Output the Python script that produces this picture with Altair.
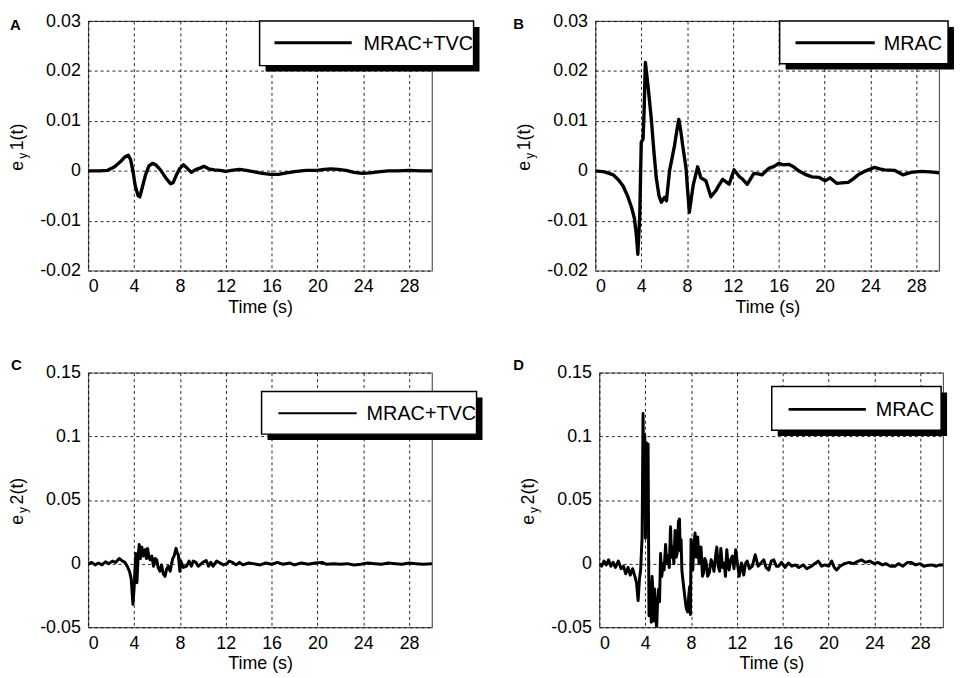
import altair as alt
import pandas as pd

FONT = "Liberation Sans"

# ---------------- data ----------------
XTICKS = [0, 4, 8, 12, 16, 20, 24, 28]
Y1_TICKS = [-0.02, -0.01, 0, 0.01, 0.02, 0.03]
Y2_TICKS = [-0.05, 0, 0.05, 0.1, 0.15]

A_t = [0, 1, 1.7, 2.3, 2.8, 3.2, 3.5, 3.7, 3.9, 4.1, 4.35, 4.5, 4.7, 5.0, 5.3, 5.6, 5.9, 6.3, 6.8,
       7.2, 7.4, 7.7, 8.0, 8.3, 8.6, 9.0, 9.4, 9.7, 10.1, 10.5, 11.0, 11.5, 12.0, 12.5, 13.2, 13.8,
       14.5, 15.2, 15.9, 16.6, 17.3, 18.2, 19.0, 20.0, 20.6, 21.2, 21.8, 22.5, 23.2, 23.9, 24.6,
       25.3, 26.2, 27.0, 28.0, 29.0, 30.0]
A_v = [0, 0.0000, 0.0001, 0.0008, 0.0018, 0.0028, 0.0031, 0.0022, 0.0000, -0.0030, -0.0050,
       -0.0052, -0.0035, -0.0008, 0.0010, 0.0015, 0.0012, 0.0002, -0.0015, -0.0026, -0.0024,
       -0.0008, 0.0005, 0.0012, 0.0006, -0.0003, 0.0003, 0.0005, 0.0009, 0.0004, 0.0002, 0.0001,
       -0.0001, 0.0001, 0.0003, 0.0001, -0.0002, -0.0005, -0.0007, -0.0007, -0.0004, -0.0001,
       0.0001, 0.0001, 0.0003, 0.0004, 0.0003, 0.0001, -0.0003, -0.0005, -0.0004, -0.0002,
       0.0000, 0.0000, 0.0001, 0.0000, 0.0000]

B_t = [0, 0.8, 1.56, 2.0, 2.4, 2.8, 3.15, 3.4, 3.58, 3.7, 3.87, 4.0, 4.16, 4.25, 4.36, 4.6, 4.88,
       5.1, 5.31, 5.55, 5.75, 6.03, 6.2, 6.47, 6.9, 7.1, 7.28, 7.45, 7.62, 7.91, 8.05, 8.2, 8.4,
       8.55, 8.92, 9.2, 9.64, 10.08, 10.5, 10.8, 11.1, 11.4, 11.67, 12.1, 12.53, 12.9, 13.25,
       13.83, 14.2, 14.55, 15.13, 15.6, 16.0, 16.4, 16.86, 17.3, 17.73, 18.3, 18.9, 19.5, 20.04,
       20.47, 21.05, 21.5, 22.06, 22.5, 22.93, 23.6, 24.37, 24.8, 25.24, 26.1, 26.83, 27.55,
       28.4, 29.2, 30]
B_v = [0, -0.0002, -0.0008, -0.0018, -0.003, -0.005, -0.0073, -0.0095, -0.013, -0.0167, -0.009,
       0.0057, 0.0064, 0.012, 0.0217, 0.0168, 0.0103, 0.004, -0.0014, -0.005, -0.0063, -0.0053,
       -0.006, 0.0, 0.005, 0.008, 0.0103, 0.008, 0.005, 0.0005, -0.004, -0.0083, -0.005,
       -0.0027, 0.0008, -0.0014, -0.002, -0.0052, -0.004, -0.0028, -0.0017, -0.0022, -0.0027,
       0.0002, -0.0011, -0.0018, -0.0027, -0.0005, -0.0006, -0.0008, 0.0005, 0.0009, 0.0015,
       0.0012, 0.0013, 0.0008, 0.0, -0.0007, -0.0012, -0.0013, -0.002, -0.0014, -0.0025, -0.0024,
       -0.0023, -0.0016, -0.0008, 0.0, 0.0007, 0.0004, 0.0002, 0.0001, -0.0008, -0.0003, -0.0001,
       -0.0002, -0.0004]

C_t = [0, 0.3, 0.6, 0.9, 1.2, 1.5, 1.8, 2.1, 2.4, 2.7, 3.0, 3.2, 3.4, 3.6, 3.75, 3.9, 4.0, 4.05,
       4.15, 4.25, 4.35, 4.45, 4.55, 4.68, 4.8, 4.97, 5.08, 5.18, 5.3, 5.4, 5.55, 5.7, 5.85, 5.98,
       6.1, 6.27, 6.4, 6.55, 6.7, 6.85, 6.99, 7.15, 7.37, 7.5, 7.66, 7.78, 7.86, 8.0, 8.08, 8.15,
       8.3, 8.58, 8.8, 9.0, 9.16, 9.4, 9.6, 9.75, 10.0, 10.3, 10.5, 10.7, 10.9, 11.2, 11.5, 11.8,
       12.1, 12.3, 12.6, 12.9, 13.2, 13.5, 14.0, 14.4, 15.0, 15.5, 16.0, 16.5, 17.0, 17.6, 18.0,
       18.6, 19.2, 19.8, 20.4, 20.8, 21.4, 22.0, 22.6, 23.2, 23.8, 24.4, 25.0, 25.6, 26.2, 26.8,
       27.4, 28.0, 28.6, 29.2, 30.0]
C_v = [0, 0.001, -0.001, 0.0005, -0.001, 0.0015, 0, 0.002, 0.001, 0.004, 0.002, 0.001, -0.002,
       -0.006, -0.012, -0.032, -0.02, -0.01, 0.008, -0.015, 0.005, 0.015, 0.004, 0.013, 0.006,
       0.011, 0.004, 0.012, 0.005, 0.003, 0.006, -0.002, 0.004, 0.003, -0.003, -0.006, -0.001,
       -0.008, -0.01, -0.004, -0.002, -0.006, 0.004, 0.006, 0.012, 0.008, 0.007, -0.006, 0.002,
       0.0005, -0.003, -0.002, 0.002, -0.002, 0.002, 0.001, -0.002, -0.001, 0.001, 0.0025,
       -0.002, 0.001, -0.002, 0.002, 0.0005, -0.001, 0, 0.002, 0.001, -0.001, 0.001, -0.001,
       0.0005, 0, -0.001, 0.0005, -0.0005, 0.001, -0.0005, 0.0005, -0.001, 0.0005, -0.0005,
       0.0005, 0.001, -0.0005, 0, -0.0005, 0, -0.001, -0.0005, 0.0005, 0, -0.0005, 0.0005, 0,
       -0.0005, 0.0005, 0, -0.0005, 0]

D_t = [0, 0.2, 0.4, 0.6, 0.8, 1.0, 1.2, 1.4, 1.65, 1.9, 2.1, 2.3, 2.5, 2.7, 2.9, 3.1, 3.24, 3.38,
       3.5, 3.6, 3.73, 3.81, 3.88, 3.96, 4.02, 4.1, 4.18, 4.25, 4.33, 4.45, 4.53, 4.6, 4.68, 4.75,
       4.82, 4.9, 5.0, 5.08, 5.17, 5.25, 5.34, 5.45, 5.55, 5.65, 5.78, 5.88, 5.98, 6.1, 6.21, 6.3,
       6.41, 6.5, 6.61, 6.7, 6.79, 6.9, 6.99, 7.06, 7.13, 7.2, 7.28, 7.38, 7.48, 7.58, 7.71, 7.8,
       7.88, 7.95, 8.0, 8.08, 8.15, 8.25, 8.35, 8.45, 8.58, 8.7, 8.87, 9.0, 9.1, 9.2, 9.3, 9.45,
       9.6, 9.75, 9.88, 10.0, 10.17, 10.25, 10.37, 10.5, 10.6, 10.75, 10.9, 11.0, 11.12, 11.22,
       11.32, 11.45, 11.6, 11.75, 11.9, 12.05, 12.2, 12.4, 12.6, 12.75, 12.9, 13.1, 13.35, 13.6,
       13.85, 14.1, 14.35, 14.55, 14.78, 15.0, 15.22, 15.45, 15.65, 15.9, 16.2, 16.5, 16.8, 17.1,
       17.4, 17.8, 18.1, 18.5, 18.8, 19.1, 19.4, 19.7, 20.0, 20.27, 20.5, 20.7, 21.0, 21.4, 21.8,
       22.2, 22.6, 22.9, 23.2, 23.6, 24.0, 24.3, 24.7, 25.0, 25.4, 25.8, 26.1, 26.5, 26.9, 27.2,
       27.6, 28.0, 28.3, 28.6, 29.0, 29.4, 29.7, 30.0]
D_v = [0, -0.002, 0.002, -0.001, 0.003, -0.002, 0.001, -0.003, 0.002, -0.004, -0.002, -0.008,
       -0.003, -0.009, -0.004, -0.01, -0.015, -0.029, -0.012, -0.005, 0.021, 0.118, 0.06, 0.101,
       0.02, 0.095, 0.03, 0.094, -0.041, -0.015, -0.046, -0.01, -0.023, -0.045, -0.02, -0.041,
       -0.05, -0.03, -0.02, -0.03, 0.008, -0.01, 0, -0.005, 0.015, 0, 0.006, -0.003, 0.029, 0.005,
       0.013, 0.0, 0.026, 0.005, 0.008, 0.033, 0.035, 0.01, 0.019, -0.005, -0.012, -0.02, -0.028,
       -0.035, -0.038, -0.025, -0.018, -0.04, 0.019, 0.0, -0.005, 0.015, 0.024, 0.005, 0.021, 0.0,
       0.013, -0.01, -0.007, 0.004, 0.002, -0.01, -0.007, 0.003, 0.0005, -0.006, 0.008, 0.013,
       -0.002, -0.006, 0.012, -0.003, 0.0005, -0.01, 0.011, 0.0, -0.005, 0.003, 0.006, -0.004,
       0.011, 0.0, -0.01, 0.0005, -0.009, 0.0, 0.002, -0.004, -0.002, 0.007, -0.002, 0.0005,
       0.003, -0.003, -0.005, 0.002, 0.003, -0.002, -0.002, 0.001, -0.003, 0.0005, -0.002,
       -0.001, -0.003, -0.001, -0.004, -0.002, 0.0, 0.002, -0.002, -0.001, -0.002, 0.002, -0.003,
       -0.005, -0.002, 0, 0.001, 0.0, 0.002, 0.003, 0.001, 0.002, 0.0, 0.001, -0.001, 0.0, -0.002,
       -0.002, 0.0, -0.002, 0.001, 0.001, -0.001, 0.0, -0.002, -0.0015, -0.001, -0.002, -0.001,
       -0.001]

W = 347
LABEL_EXPR = "replace(format(datum.value, '~g'), '\u2212', '-')"


def panel(t, v, ydom, yticks, letter, letter_xy, num, legend_text, box, line_w, legend_w, h):
    df = pd.DataFrame({"t": t, "v": v})
    line = alt.Chart(df).mark_line(color="black", strokeWidth=line_w, clip=True,
                                   strokeJoin="round").encode(
        x=alt.X("t:Q", scale=alt.Scale(domain=[0, 30], nice=False, zero=False),
                axis=alt.Axis(values=XTICKS, title="Time (s)", grid=True, ticks=False,
                              domain=False, labelPadding=7, titlePadding=3, format="d")),
        y=alt.Y("v:Q", scale=alt.Scale(domain=ydom, nice=False, zero=False),
                axis=alt.Axis(values=yticks, title=None, grid=True, ticks=False,
                              domain=False, labelPadding=8, labelExpr=LABEL_EXPR)),
    )
    one = alt.Chart(pd.DataFrame({"k": [0]}))
    bx0, by0, bx1, by1, lx0, lx1, ly, tx = box
    sh = 6
    shadow = one.mark_rect(color="black").encode(
        x=alt.value(bx0 + sh), x2=alt.value(bx1 + sh), y=alt.value(by0 + sh), y2=alt.value(by1 + sh))
    frame = one.mark_rect(fill="white", stroke="black", strokeWidth=1.5).encode(
        x=alt.value(bx0), x2=alt.value(bx1), y=alt.value(by0), y2=alt.value(by1))
    sample = one.mark_rule(color="black", strokeWidth=legend_w).encode(
        x=alt.value(lx0), x2=alt.value(lx1), y=alt.value(ly))
    ltext = one.mark_text(align="left", baseline="middle", font=FONT, fontSize=20,
                          color="black").encode(
        x=alt.value(tx), y=alt.value(ly + 1), text=alt.value(legend_text))
    let = one.mark_text(align="left", baseline="top", font=FONT, fontSize=15,
                        fontWeight="bold", color="black").encode(
        x=alt.value(letter_xy[0]), y=alt.value(letter_xy[1]), text=alt.value(letter))
    yc = h / 2.0
    ye = one.mark_text(angle=270, align="center", baseline="alphabetic", font=FONT,
                       fontSize=18, color="black").encode(
        x=alt.value(-66), y=alt.value(yc + 20), text=alt.value("e"))
    ysub = one.mark_text(angle=270, align="center", baseline="alphabetic", font=FONT,
                         fontSize=12, color="black").encode(
        x=alt.value(-61.5), y=alt.value(yc + 10), text=alt.value("y"))
    ynum = one.mark_text(angle=270, align="center", baseline="alphabetic", font=FONT,
                         fontSize=18, color="black").encode(
        x=alt.value(-66), y=alt.value(yc - 9), text=alt.value(num + "(t)"))
    return alt.layer(line, shadow, frame, sample, ltext, let, ye, ysub, ynum).properties(
        width=W, height=h)


pA = panel(A_t, A_v, [-0.02, 0.03], Y1_TICKS, "A", (-79, -3), "1", "MRAC+TVC",
           (173, 0, 389, 45, 188, 266, 22, 278), 3.4, 3, 252)
pB = panel(B_t, B_v, [-0.02, 0.03], Y1_TICKS, "B", (-83, -4), "1", "MRAC",
           (186, 0, 356, 43, 202, 282, 22, 291), 3.4, 3, 252)
pC = panel(C_t, C_v, [-0.05, 0.15], Y2_TICKS, "C", (-78, -15), "2", "MRAC+TVC",
           (175, 19, 392, 62, 192, 271, 41, 281), 3, 2, 257)
pD = panel(D_t, D_v, [-0.05, 0.15], Y2_TICKS, "D", (-87, -15), "2", "MRAC",
           (174, 14, 345, 58, 191, 269, 37, 279), 3, 3, 257)

chart = alt.vconcat(
    alt.hconcat(pA, pB, spacing=32),
    alt.hconcat(pC, pD, spacing=29),
    spacing=40,
).properties(padding=0, background="white").configure_axis(
    labelFont=FONT, labelFontSize=18, labelColor="black",
    titleFont=FONT, titleFontSize=18, titleFontWeight="normal", titleColor="black",
    gridColor="black", gridDash=[3, 3], gridWidth=1, gridOpacity=0.85,
).configure_view(stroke="#555", strokeWidth=1.2)

chart.save("out.html", embed_options={"renderer": "svg", "actions": False})
